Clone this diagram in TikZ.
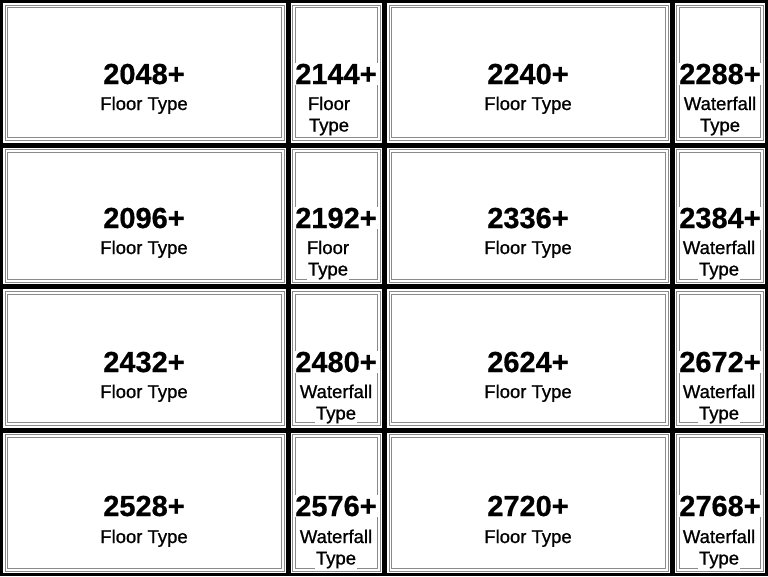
\documentclass[tikz,border=0pt]{standalone}
\usepackage{fontspec}
\setmainfont{Liberation Sans}
\newfontfamily\numfont[FakeBold=0.6]{Liberation Sans Bold}
\newfontfamily\lblfont[FakeBold=0.9]{Liberation Sans}
\definecolor{framegrey}{HTML}{8A8A8A}
\begin{document}
\begin{tikzpicture}[x=1pt,y=-1pt,
  numtxt/.style={font=\numfont\fontsize{29}{29}\selectfont, anchor=base, inner sep=1.2pt, fill=white, text=black},
  lbltxt/.style={font=\lblfont\fontsize{18.5}{18.5}\selectfont, anchor=base, inner sep=1pt, fill=white, text=black},
  frameline/.style={draw=framegrey, line width=1pt}]
\fill[black] (0,0) rectangle (768,576);
\useasboundingbox (0,0) rectangle (768,576);
% panels
\foreach \xa/\xb in {3/286, 290.5/382, 387/670, 674.5/765}{
  \foreach \ya/\yb in {3/142.5, 147.5/284.3, 289.3/427.5, 432.5/573.3}{
    \fill[white] (\xa,\ya) rectangle (\xb,\yb);
    \draw[frameline] ({\xa+2},{\ya+2}) rectangle ({\xb-2},{\yb-2});
    \draw[frameline] ({\xa+4.8},{\ya+4.8}) rectangle ({\xb-4.8},{\yb-4.8});
  }
}
% row 1
\node[numtxt] (n11) at (144,84) {2048+};
\node[lbltxt] (a11) at (144,110) {Floor Type};
\node[numtxt] (n12) at (336,84) {2144+};
\node[lbltxt] (a12) at (329,110) {Floor};
\node[lbltxt] (b12) at (329,131.5) {Type};
\node[numtxt] (n13) at (528,84) {2240+};
\node[lbltxt] (a13) at (528,110) {Floor Type};
\node[numtxt] (n14) at (720,84) {2288+};
\node[lbltxt] (a14) at (720,110) {Waterfall};
\node[lbltxt] (b14) at (720,131.5) {Type};
% row 2
\node[numtxt] (n21) at (144,228) {2096+};
\node[lbltxt] (a21) at (144,254) {Floor Type};
\node[numtxt] (n22) at (336,228) {2192+};
\node[lbltxt] (a22) at (328,254) {Floor};
\node[lbltxt] (b22) at (328,275.5) {Type};
\node[numtxt] (n23) at (528,228) {2336+};
\node[lbltxt] (a23) at (528,254) {Floor Type};
\node[numtxt] (n24) at (720,228) {2384+};
\node[lbltxt] (a24) at (719,254) {Waterfall};
\node[lbltxt] (b24) at (719,275.5) {Type};
% row 3
\node[numtxt] (n31) at (144,372) {2432+};
\node[lbltxt] (a31) at (144,398) {Floor Type};
\node[numtxt] (n32) at (336,372) {2480+};
\node[lbltxt] (a32) at (336,398) {Waterfall};
\node[lbltxt] (b32) at (336,419.5) {Type};
\node[numtxt] (n33) at (528,372) {2624+};
\node[lbltxt] (a33) at (528,398) {Floor Type};
\node[numtxt] (n34) at (720,372) {2672+};
\node[lbltxt] (a34) at (719,398) {Waterfall};
\node[lbltxt] (b34) at (719,419.5) {Type};
% row 4
\node[numtxt] (n41) at (144,516) {2528+};
\node[lbltxt] (a41) at (144,543) {Floor Type};
\node[numtxt] (n42) at (336,516) {2576+};
\node[lbltxt] (a42) at (336,543) {Waterfall};
\node[lbltxt] (b42) at (336,564.5) {Type};
\node[numtxt] (n43) at (528,516) {2720+};
\node[lbltxt] (a43) at (528,543) {Floor Type};
\node[numtxt] (n44) at (720,516) {2768+};
\node[lbltxt] (a44) at (719,543) {Waterfall};
\node[lbltxt] (b44) at (719,564.5) {Type};
\end{tikzpicture}
\end{document}
